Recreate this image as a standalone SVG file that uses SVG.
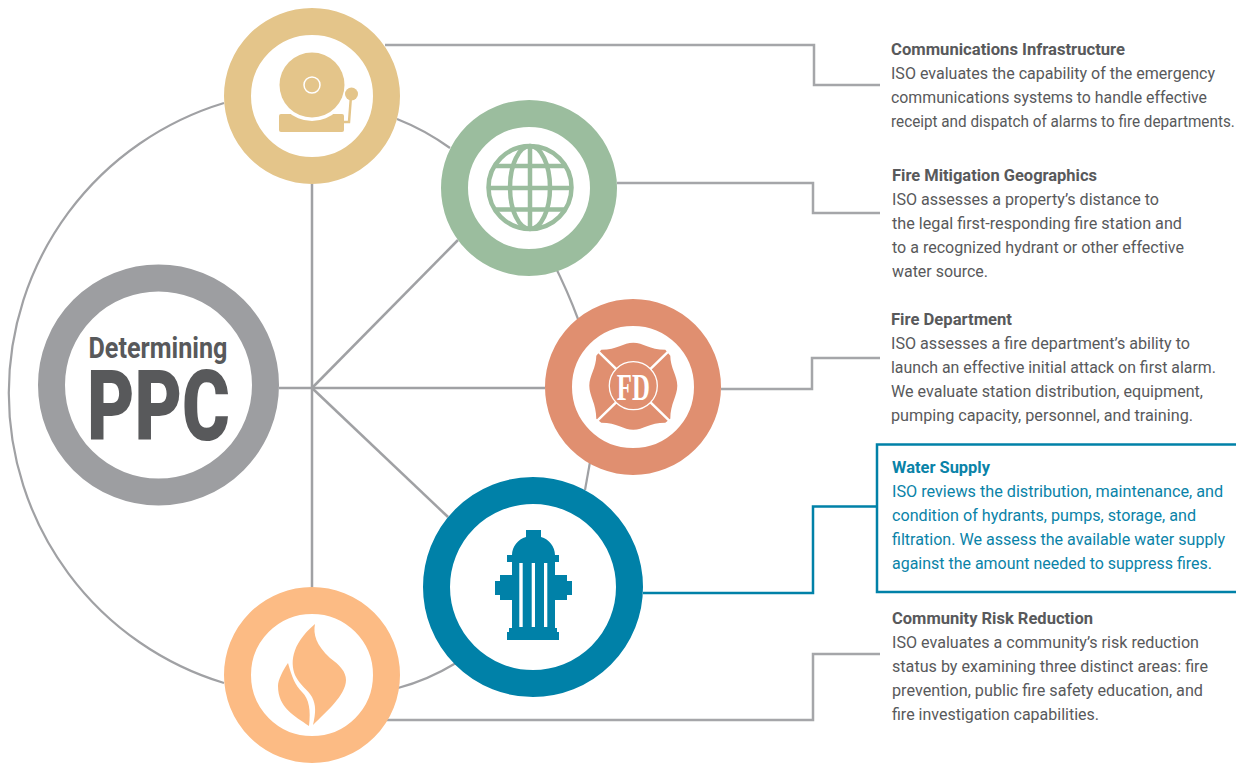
<svg xmlns="http://www.w3.org/2000/svg" width="1236" height="763" viewBox="0 0 1236 763">
<style>
text{font-family:"Roboto","Liberation Sans",sans-serif}
.t{font-size:17px;fill:#58595b}
.h{font-size:17px;font-weight:700;fill:#58595b}
.wt{font-size:17px;fill:#0a83a8}
.wh{font-size:17px;font-weight:700;fill:#0a83a8}
.l{fill:none;stroke:#a0a1a4;stroke-width:2.5}
.th{fill:none;stroke:#a0a1a4;stroke-width:2.200}
.c{fill:none;stroke:#a5a6a9;stroke-width:2.500}
.b{fill:none;stroke:#0081a8;stroke-width:2.500}
</style>
<rect width="1236" height="763" fill="#fff"/>
<g id="connectors">
<path class="th" d="M224,103 A303,303 0 0 0 224,683"/>
<path class="th" d="M397,119 Q425,130 450,148"/>
<path class="th" d="M553,262 Q568,292 578,319"/>
<path class="th" d="M590,462 L585,490"/>
<path class="th" d="M398,688 Q428,680 456,663"/>
<path class="l" d="M312,184 V587"/>
<path class="l" d="M279,388 H545"/>
<path class="l" d="M312,388 L458,240"/>
<path class="l" d="M312,388 L448,517"/>
<path class="c" d="M385,45 H814 V85 H880"/>
<path class="c" d="M617,183 H813 V213 H880"/>
<path class="c" d="M721,389 H812 V358 H880"/>
<path class="c" d="M385,720 H813 V654 H880"/>
<path class="b" d="M643,593 H813 V506.500 H877"/>
</g>
<g id="node-ppc">
<circle cx="158.500" cy="385" r="107" fill="#fff" stroke="#9d9ea1" stroke-width="27"/>
<text x="88.500" y="358" font-size="30" font-weight="700" fill="#58595b" textLength="139" lengthAdjust="spacingAndGlyphs">Determining</text>
<text x="87" y="440" font-size="98" font-weight="900" fill="#58595b" textLength="143" lengthAdjust="spacingAndGlyphs">PPC</text>
</g>
<g id="node-communications">
<circle cx="312" cy="96" r="74.500" fill="#fff" stroke="#e4c58a" stroke-width="27"/>
<path fill="#e4c58a" d="M281,114 H342 Q344,114 344,116 V130 Q344,132 342,132 H281 Q279,132 279,130 V116 Q279,114 281,114Z"/>
<circle cx="312" cy="85" r="36" fill="#fff"/>
<circle cx="312" cy="85" r="32.500" fill="#e4c58a"/>
<circle cx="312" cy="85" r="8" fill="#e4c58a" stroke="#fff" stroke-width="1.500"/>
<circle cx="351.500" cy="94" r="6.500" fill="#e4c58a"/>
<path d="M351,96 L349,122 H344" fill="none" stroke="#e4c58a" stroke-width="2.500"/>
</g>
<g id="node-geographics">
<circle cx="529" cy="188" r="74.500" fill="#fff" stroke="#9bbd9e" stroke-width="27"/>
<g fill="none" stroke="#9bbd9e" stroke-width="4.500">
<circle cx="530" cy="187.500" r="41.500"/>
<ellipse cx="530" cy="187.500" rx="20" ry="41.500"/>
<path d="M530,146 V229 M494,166 H566 M488.500,188 H571.500 M494,209.500 H566"/>
</g>
</g>
<g id="node-fire-department">
<circle cx="633" cy="387" r="74.500" fill="#fff" stroke="#e08f70" stroke-width="27"/>
<g transform="translate(633.300 385.700)">
<path fill="#e08f70" d="M0,-43 C-10,-43 -16,-36 -32,-36 L-37,-30 C-37,-18 -44,-10 -44,0 C-44,10 -37,18 -37,33 L-32,37 C-16,37 -10,44 0,44 C10,44 16,37 32,37 L37,33 C37,18 44,10 44,0 C44,-10 37,-18 37,-30 L32,-36 C16,-36 10,-43 0,-43Z"/>
<path d="M-38,-37 L38,37 M38,-37 L-38,37" stroke="#fff" stroke-width="2.500"/>
<circle r="24" fill="#e08f70" stroke="#fff" stroke-width="1.300"/>
<text x="-16.500" y="14.500" font-size="38" font-weight="700" fill="#fff" style="font-family:'Liberation Serif',serif" textLength="33" lengthAdjust="spacingAndGlyphs">FD</text>
</g>
</g>
<g id="node-water-supply">
<circle cx="533" cy="587" r="96.500" fill="#fff" stroke="#0081a8" stroke-width="27"/>
<path fill="#0081a8" fill-rule="evenodd" d="M526,530 H541 V537 C549,539 555,547 555,555 H559 V562 H555 V575 H567 V581 H572 V595 H567 V600 H555 V628 H557 V632 H559 V640 H507 V632 H509 V628 H512 V600 H500 V595 H495 V581 H500 V575 H512 V562 H507 V555 H512 C512,547 518,539 526,537Z M519.300,563 V627 H522.700 V563Z M531.700,563 V627 H535 V563Z M544,563 V627 H547.300 V563Z"/>
</g>
<g id="node-community-risk">
<circle cx="312" cy="675" r="74.500" fill="#fff" stroke="#fcbb84" stroke-width="27"/>
<path fill="#fcbb84" d="M315,624 C313,634 316,645 330,658 C340,665 346,672 346,680 C346,695 326,712 313,725 C316,712 316,705 312,697 C308,690 300,685 296,677 C290,665 290,645 315,624Z"/>
<path fill="#fcbb84" d="M288,663 C292,677 295,685 302,692 C309,699 311,710 309,726 C295,716 278,708 278,686 C278,680 283,670 288,663Z"/>
</g>
<g id="label-communications">
<text class="h" x="891" y="55" textLength="234" lengthAdjust="spacingAndGlyphs">Communications Infrastructure</text>
<text class="t" x="891" y="79" textLength="324" lengthAdjust="spacingAndGlyphs">ISO evaluates the capability of the emergency</text>
<text class="t" x="891" y="103" textLength="316" lengthAdjust="spacingAndGlyphs">communications systems to handle effective</text>
<text class="t" transform="translate(891 127) scale(.9 1)" x="0" y="0" textLength="382" lengthAdjust="spacingAndGlyphs">receipt and dispatch of alarms to fire departments.</text>
</g>
<g id="label-geographics">
<text class="h" x="892" y="181" textLength="205" lengthAdjust="spacingAndGlyphs">Fire Mitigation Geographics</text>
<text class="t" x="892" y="205" textLength="267" lengthAdjust="spacingAndGlyphs">ISO assesses a property’s distance to</text>
<text class="t" x="892" y="229" textLength="290" lengthAdjust="spacingAndGlyphs">the legal first-responding fire station and</text>
<text class="t" x="892" y="253" textLength="292" lengthAdjust="spacingAndGlyphs">to a recognized hydrant or other effective</text>
<text class="t" x="892" y="277" textLength="96" lengthAdjust="spacingAndGlyphs">water source.</text>
</g>
<g id="label-fire-department">
<text class="h" x="891" y="325" textLength="121" lengthAdjust="spacingAndGlyphs">Fire Department</text>
<text class="t" x="891" y="349" textLength="299" lengthAdjust="spacingAndGlyphs">ISO assesses a fire department’s ability to</text>
<text class="t" transform="translate(891 373) scale(.9 1)" x="0" y="0" textLength="361" lengthAdjust="spacingAndGlyphs">launch an effective initial attack on first alarm.</text>
<text class="t" x="891" y="397" textLength="312" lengthAdjust="spacingAndGlyphs">We evaluate station distribution, equipment,</text>
<text class="t" x="891" y="421" textLength="302" lengthAdjust="spacingAndGlyphs">pumping capacity, personnel, and training.</text>
</g>
<g id="label-water-supply">
<path class="b" d="M1236,444.500 H877 V592 H1236"/>
<text class="wh" x="892" y="473" textLength="98" lengthAdjust="spacingAndGlyphs">Water Supply</text>
<text class="wt" transform="translate(892 497) scale(.9 1)" x="0" y="0" textLength="368" lengthAdjust="spacingAndGlyphs">ISO reviews the distribution, maintenance, and</text>
<text class="wt" x="892" y="521" textLength="304" lengthAdjust="spacingAndGlyphs">condition of hydrants, pumps, storage, and</text>
<text class="wt" transform="translate(892 545) scale(.9 1)" x="0" y="0" textLength="370" lengthAdjust="spacingAndGlyphs">filtration. We assess the available water supply</text>
<text class="wt" x="892" y="569" textLength="320" lengthAdjust="spacingAndGlyphs">against the amount needed to suppress fires.</text>
</g>
<g id="label-community-risk">
<text class="h" x="892" y="624" textLength="201" lengthAdjust="spacingAndGlyphs">Community Risk Reduction</text>
<text class="t" x="892" y="648" textLength="307" lengthAdjust="spacingAndGlyphs">ISO evaluates a community’s risk reduction</text>
<text class="t" x="892" y="672" textLength="316" lengthAdjust="spacingAndGlyphs">status by examining three distinct areas: fire</text>
<text class="t" x="892" y="696" textLength="311" lengthAdjust="spacingAndGlyphs">prevention, public fire safety education, and</text>
<text class="t" x="892" y="720" textLength="207" lengthAdjust="spacingAndGlyphs">fire investigation capabilities.</text>
</g>
</svg>
